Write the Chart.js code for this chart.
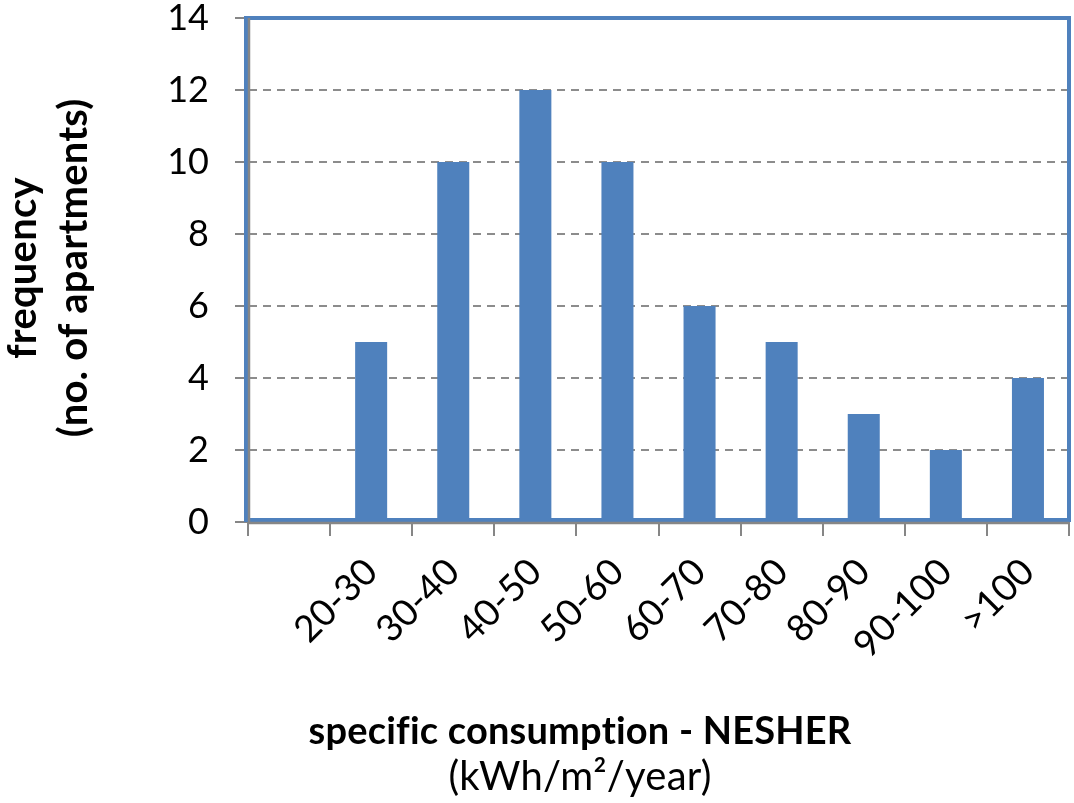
<!DOCTYPE html>
<html>
<head>
<meta charset="utf-8">
<script src="https://cdn.jsdelivr.net/npm/chart.js@4/dist/chart.umd.min.js"></script>
<style>
  html, body { margin: 0; padding: 0; background: #ffffff; }
  #wrap { width: 1074px; height: 803px; position: relative; }
</style>
</head>
<body>
<div id="wrap"><canvas id="c" width="1074" height="803"></canvas></div>
<script>
// Histogram of specific energy consumption, NESHER apartments
const categories = ['', '20-30', '30-40', '40-50', '50-60', '60-70', '70-80', '80-90', '90-100', '>100'];
const apartments = [0, 5, 10, 12, 10, 6, 5, 3, 2, 4];
const yTicks = [0, 2, 4, 6, 8, 10, 12, 14];

const xTitle = 'specific consumption - NESHER';
const xUnit = '(kWh/m\u00B2/year)';
const yTitle = ['frequency', '(no. of apartments)'];

const BLUE = '#4f81bd';
const GRAY = '#868686';
const FONT = 'Lato, "Open Sans", sans-serif';

// Blue plot frame plus the grey axis lines on its left and bottom
const framePlugin = {
  id: 'plotFrame',
  beforeDatasetsDraw(chart) {
    const a = chart.chartArea;
    const ctx = chart.ctx;
    ctx.save();
    ctx.strokeStyle = BLUE;
    ctx.lineWidth = 4;
    ctx.strokeRect(a.left - 2, a.top, a.right - a.left + 2, a.bottom - 2 - a.top);
    ctx.strokeStyle = GRAY;
    ctx.lineWidth = 2.5;
    ctx.beginPath();
    ctx.moveTo(a.left + 1, a.top);
    ctx.lineTo(a.left + 1, a.bottom + 1);
    ctx.moveTo(a.left, a.bottom + 1);
    ctx.lineTo(a.right, a.bottom + 1);
    ctx.stroke();
    ctx.restore();
  }
};

// Axis titles: bold title with a regular unit line below it
const titlePlugin = {
  id: 'axisTitles',
  afterDraw(chart) {
    const ctx = chart.ctx;
    ctx.save();
    ctx.letterSpacing = '0.2px';
    ctx.fillStyle = '#000000';
    ctx.textAlign = 'center';
    ctx.textBaseline = 'alphabetic';
    ctx.font = 'bold 38px ' + FONT;
    ctx.fillText(xTitle, 580, 744);
    ctx.font = '40px ' + FONT;
    ctx.fillText(xUnit, 580, 790);

    ctx.translate(0, 268);
    ctx.rotate(-Math.PI / 2);
    ctx.font = 'bold 40px ' + FONT;
    ctx.fillText(yTitle[0], 0, 36);
    ctx.fillText(yTitle[1], 0, 87);
    ctx.restore();
  }
};

new Chart(document.getElementById('c'), {
  type: 'bar',
  data: {
    labels: categories,
    datasets: [{
      data: apartments,
      backgroundColor: BLUE,
      borderWidth: 0,
      barPercentage: 1,
      categoryPercentage: 0.39
    }]
  },
  options: {
    responsive: false,
    animation: false,
    events: [],
    layout: { padding: { left: 0, top: 18, right: 5, bottom: 0 } },
    plugins: { legend: { display: false }, tooltip: { enabled: false } },
    scales: {
      x: {
        grid: {
          offset: true,
          drawOnChartArea: false,
          drawTicks: true,
          tickLength: 14,
          color: GRAY,
          lineWidth: 2
        },
        border: { display: true, color: GRAY, width: 2 },
        ticks: {
          autoSkip: false,
          minRotation: 45,
          maxRotation: 45,
          padding: 14,
          color: '#000000',
          font: { family: FONT, size: 37 }
        },
        afterFit(scale) {
          scale.height = 281;
          scale.paddingLeft = 0;
          scale.paddingRight = 0;
        }
      },
      y: {
        min: 0,
        max: 14,
        afterBuildTicks(scale) {
          scale.ticks = yTicks.map(v => ({ value: v }));
        },
        grid: {
          drawTicks: true,
          tickLength: 13,
          lineWidth: 2,
          color: ctx => (ctx.tick && (ctx.tick.value === 0 || ctx.tick.value === 14)) ? 'rgba(0,0,0,0)' : '#8c8c8c',
          tickColor: GRAY,
          tickWidth: 2
        },
        border: { display: true, color: GRAY, width: 2, dash: [8, 6] },
        ticks: {
          padding: 26,
          color: '#000000',
          font: { family: FONT, size: 36 }
        },
        afterFit(scale) {
          scale.width = 248;
          scale.paddingTop = 0;
          scale.paddingBottom = 0;
        }
      }
    }
  },
  plugins: [framePlugin, titlePlugin]
});
</script>
</body>
</html>
